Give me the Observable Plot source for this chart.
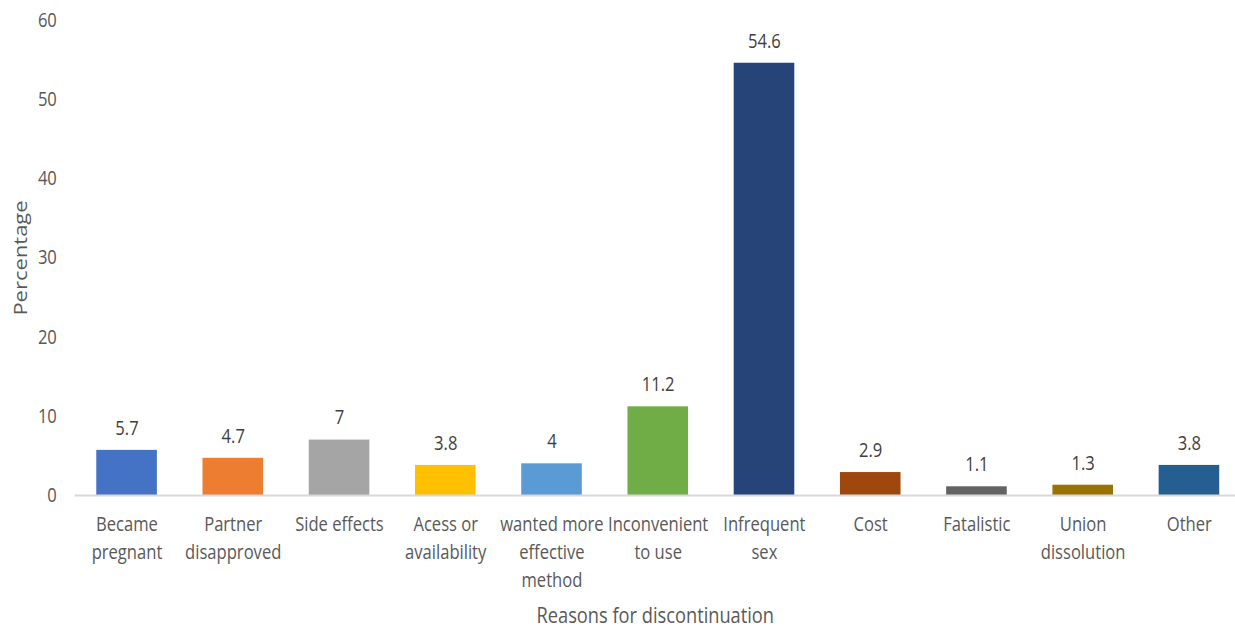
<!DOCTYPE html>
<html>
<head>
<meta charset="utf-8">
<script src="https://cdn.jsdelivr.net/npm/d3@7"></script>
<script src="https://cdn.jsdelivr.net/npm/@observablehq/plot@0.6"></script>
<style>
  html, body { margin: 0; padding: 0; background: #fff; overflow: hidden; }
  #chart svg { display: block; }
</style>
</head>
<body>
<div id="chart"></div>
<script>
const categories = [
  "Became\npregnant", "Partner\ndisapproved", "Side effects", "Acess or\navailability",
  "wanted more\neffective\nmethod", "Inconvenient\nto use", "Infrequent\nsex", "Cost",
  "Fatalistic", "Union\ndissolution", "Other"
];
const values = [5.7, 4.7, 7, 3.8, 4, 11.2, 54.6, 2.9, 1.1, 1.3, 3.8];
const valueLabels = ["5.7", "4.7", "7", "3.8", "4", "11.2", "54.6", "2.9", "1.1", "1.3", "3.8"];
const colors = ["#4472C4", "#ED7D31", "#A5A5A5", "#FFC000", "#5B9BD5", "#70AD47",
                "#264478", "#9E480E", "#636363", "#997300", "#255E91"];
const yTicks = [0, 10, 20, 30, 40, 50, 60];

const data = categories.map((c, i) => ({cat: c, value: values[i], label: valueLabels[i], color: colors[i]}));

const squeeze = 0.83;
const W = 1235, H = 629;
const IW = Math.round(W / squeeze);
const ML = Math.round(75 / squeeze);

const chart = Plot.plot({
  width: IW,
  height: H,
  marginLeft: ML,
  marginRight: 0,
  marginTop: 20,
  marginBottom: 134,
  style: {fontFamily: "'Open Sans', sans-serif", fontSize: "20px", color: "#595959", background: "#fff"},
  x: {domain: categories, paddingInner: 0.426, paddingOuter: 0.17, align: 0.58},
  y: {domain: [0, 60], ticks: yTicks},
  marks: [
    Plot.barY(data, {x: "cat", y: "value", fill: "color"}),
    Plot.ruleY([0], {stroke: "#d9d9d9", strokeWidth: 2}),
    Plot.text(data, {x: "cat", y: "value", text: "label", dy: -22, fill: "#404040", fontSize: 20}),
    Plot.axisY(yTicks, {tickSize: 0, tickPadding: 22, fontSize: 20, fill: "#595959", label: null}),
    Plot.axisY({ticks: [], tickSize: 0, fontSize: 22, fill: "#595959",
      label: "Percentage", labelAnchor: "center", labelArrow: false, labelOffset: 74}),
    Plot.axisX({tickSize: 0, tickPadding: 16, fontSize: 20, fill: "#595959", lineHeight: 1.4, label: null}),
    Plot.axisX({ticks: [], tickSize: 0, fontSize: 22, fill: "#595959",
      label: "Reasons for discontinuation", labelAnchor: "center", labelArrow: false, labelOffset: 127})
  ]
});

chart.setAttribute("width", W);
chart.setAttribute("height", H);
chart.setAttribute("preserveAspectRatio", "none");
document.getElementById("chart").appendChild(chart);
</script>
</body>
</html>
